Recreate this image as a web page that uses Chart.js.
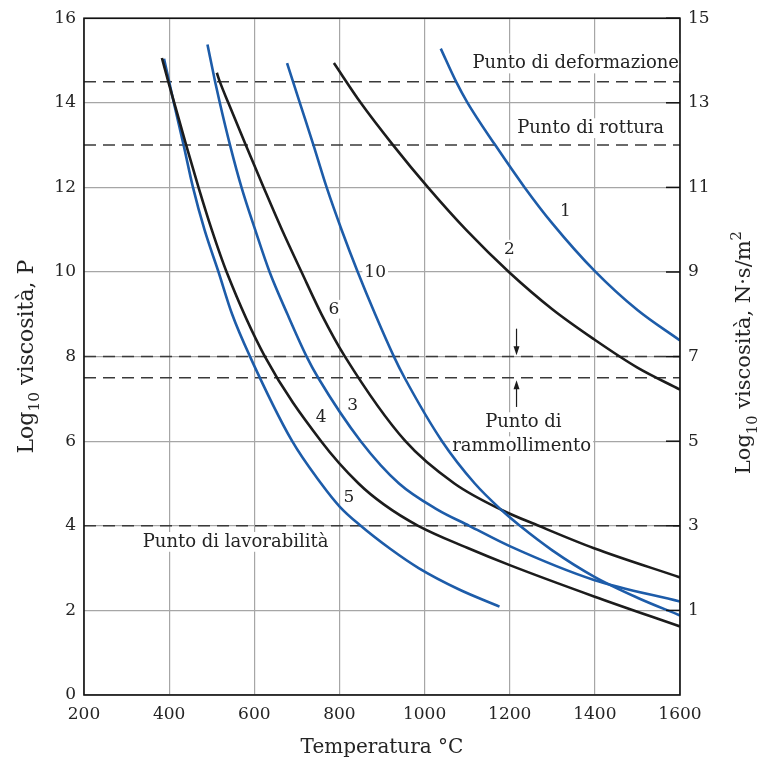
<!DOCTYPE html>
<html>
<head>
<meta charset="utf-8">
<script src="https://cdn.jsdelivr.net/npm/chart.js@4.4.1/dist/chart.umd.min.js"></script>
<style>
  html, body { margin: 0; padding: 0; background: #fff; }
  #wrap { width: 757px; height: 761px; }
</style>
</head>
<body>
<div id="wrap"><canvas id="viscChart" width="757" height="761"></canvas></div>
<script>
// [temperatura °C, log10 viscosità (P)]
const curve1 = [[1038,15.28],[1074,14.5],[1101,14],[1166,13],[1235,12],[1300,11.15],[1400,10.02],[1500,9.1],[1600,8.38]];
const curve2 = [[787,14.94],[850,14],[926,13],[1008,12],[1100,10.97],[1198,10],[1300,9.12],[1398,8.41],[1500,7.74],[1600,7.22]];
const curve3 = [[490,15.38],[508,14.5],[519,14],[543,13],[570,12],[602,11],[636,10],[678,9],[723,8],[750,7.5],[850,6],[940,5],[1029,4.39],[1105,4],[1200,3.52],[1398,2.72],[1600,2.21]];
const curve4 = [[383,15.06],[398,14.5],[412,14],[440,13],[469,12],[500,11],[535,10],[625,8],[757,6],[845,5],[905,4.5],[985,4],[1100,3.48],[1200,3.07],[1398,2.33],[1600,1.62]];
const curve5 = [[388,15.04],[400,14.5],[411,14],[434,13],[456,12],[483,11],[516,10],[548,9],[590,8],[689,6],[757,5],[801,4.45],[850,4],[920,3.45],[986,3.0],[1080,2.5],[1176,2.09]];
const curve6 = [[512,14.71],[519,14.5],[539,14],[580,13],[622,12],[665,11],[711,10],[758,9],[813,8],[955,6],[1070,5],[1180,4.38],[1268,4],[1398,3.47],[1600,2.78]];
const curve10 = [[677,14.94],[707,14],[739,13],[770,12],[805,11],[843,10],[884,9],[928,8],[953,7.5],[1041,6],[1118,5],[1182,4.36],[1224,4],[1300,3.42],[1398,2.8],[1500,2.3],[1600,1.88]];

const refLevels = [14.5, 13, 8, 7.5, 4];
const xRange = [200, 1600];
const yRange = [0, 16];
const y2Range = [-1, 15];

const curveLabels = [
  { text: '1', x: 1331, y: 11.43 },
  { text: '2', x: 1199, y: 10.54 },
  { text: '10', x: 884, y: 9.98 },
  { text: '6', x: 787, y: 9.12 },
  { text: '3', x: 831, y: 6.85 },
  { text: '4', x: 757, y: 6.56 },
  { text: '5', x: 822, y: 4.66 }
];
const notes = [
  { text: 'Punto di deformazione', x: 1600, y: 14.93, align: 'right' },
  { text: 'Punto di rottura', x: 1390, y: 13.4 },
  { text: 'Punto di', x: 1232, y: 6.45 },
  { text: 'rammollimento', x: 1228, y: 5.88 },
  { text: 'Punto di lavorabilità', x: 556, y: 3.62 }
];
const arrowX = 1216;
const arrowDown = [8.66, 8.03];
const arrowUp = [6.81, 7.44];

const FONT = '"DejaVu Serif", serif';
const TEXT = '#242424';
const BLUE = '#1d5ca9';
const BLACK = '#1c1c1c';
const GRID = '#a6a6a6';

const toXY = arr => arr.map(p => ({ x: p[0], y: p[1] }));

const curveSets = [
  [curve1, BLUE], [curve2, BLACK], [curve10, BLUE], [curve6, BLACK],
  [curve3, BLUE], [curve4, BLACK], [curve5, BLUE]
].map(([c, col]) => ({
  data: toXY(c),
  borderColor: col,
  borderWidth: 2.6,
  pointRadius: 0,
  cubicInterpolationMode: 'monotone',
  fill: false
}));

const refSets = refLevels.map(v => ({
  data: [{ x: xRange[0], y: v }, { x: xRange[1], y: v }],
  borderColor: '#3a3a3a',
  borderWidth: 1.5,
  borderDash: [12, 7],
  pointRadius: 0,
  fill: false
}));

function textItems(chart) {
  const xs = chart.scales.x, ys = chart.scales.y;
  const items = [];
  notes.forEach(n => items.push({ text: n.text, px: xs.getPixelForValue(n.x) - (n.align === 'right' ? 1 : 0),
    py: ys.getPixelForValue(n.y), align: n.align || 'center', size: 18 }));
  curveLabels.forEach(l => items.push({ text: l.text, px: xs.getPixelForValue(l.x),
    py: ys.getPixelForValue(l.y), align: 'center', size: 17 }));
  return items;
}

function drawRich(ctx, parts, cx, cy, rot, size) {
  ctx.save();
  ctx.translate(cx, cy);
  ctx.rotate(rot);
  let total = 0;
  parts.forEach(p => {
    ctx.font = (p.scale ? size * p.scale : size) + 'px ' + FONT;
    p.w = ctx.measureText(p.t).width;
    total += p.w;
  });
  let x = -total / 2;
  ctx.textBaseline = 'alphabetic';
  ctx.textAlign = 'left';
  parts.forEach(p => {
    ctx.font = (p.scale ? size * p.scale : size) + 'px ' + FONT;
    ctx.fillText(p.t, x, size * 0.35 + (p.dy || 0) * size);
    x += p.w;
  });
  ctx.restore();
}

const decorations = {
  id: 'decorations',
  beforeDatasetsDraw(chart) {
    const ctx = chart.ctx;
    ctx.save();
    ctx.fillStyle = '#fff';
    textItems(chart).forEach(it => {
      ctx.font = it.size + 'px ' + FONT;
      const w = ctx.measureText(it.text).width;
      const left = it.align === 'right' ? it.px - w : it.px - w / 2;
      ctx.fillRect(left - 2, it.py - it.size * 0.55, w + 4, it.size * 1.1);
    });
    ctx.restore();
  },
  afterDatasetsDraw(chart) {
    const ctx = chart.ctx;
    const { left, right, top, bottom } = chart.chartArea;
    const xs = chart.scales.x, ys = chart.scales.y, y2 = chart.scales.y2;
    ctx.save();
    // testi
    ctx.fillStyle = TEXT;
    ctx.textBaseline = 'middle';
    textItems(chart).forEach(it => {
      ctx.font = it.size + 'px ' + FONT;
      ctx.textAlign = it.align;
      ctx.fillText(it.text, it.px, it.py);
    });
    // frecce del punto di rammollimento
    const ax = xs.getPixelForValue(arrowX);
    ctx.strokeStyle = BLACK;
    ctx.fillStyle = BLACK;
    ctx.lineWidth = 1.2;
    [arrowDown, arrowUp].forEach(([from, to]) => {
      const p0 = ys.getPixelForValue(from), p1 = ys.getPixelForValue(to);
      const dir = Math.sign(p1 - p0);
      ctx.beginPath();
      ctx.moveTo(ax, p0);
      ctx.lineTo(ax, p1 - dir * 6);
      ctx.stroke();
      ctx.beginPath();
      ctx.moveTo(ax, p1);
      ctx.lineTo(ax - 3, p1 - dir * 9);
      ctx.lineTo(ax + 3, p1 - dir * 9);
      ctx.closePath();
      ctx.fill();
    });
    // tacche interne dell'asse destro
    ctx.strokeStyle = '#111';
    ctx.lineWidth = 1.5;
    y2.ticks.forEach(t => {
      if (t.value < 0) return;
      const py = y2.getPixelForValue(t.value);
      ctx.beginPath();
      ctx.moveTo(right - 14, py);
      ctx.lineTo(right, py);
      ctx.stroke();
    });
    // cornice
    ctx.lineWidth = 1.6;
    ctx.strokeRect(left, top, right - left, bottom - top);
    ctx.restore();
  },
  afterDraw(chart) {
    const ctx = chart.ctx;
    const { left, right, top, bottom } = chart.chartArea;
    ctx.save();
    ctx.fillStyle = TEXT;
    const midY = (top + bottom) / 2;
    drawRich(ctx, [{ t: 'Temperatura °C' }], (left + right) / 2, 746, 0, 20);
    drawRich(ctx, [{ t: 'Log' }, { t: '10', scale: 0.7, dy: 0.3 }, { t: ' viscosità, P' }], 25, midY, -Math.PI / 2, 22);
    drawRich(ctx, [{ t: 'Log' }, { t: '10', scale: 0.7, dy: 0.3 }, { t: ' viscosità, N·s/m' }, { t: '2', scale: 0.7, dy: -0.45 }],
      743, midY - 4, -Math.PI / 2, 21);
    ctx.restore();
  }
};

const tickFont = { family: FONT, size: 17 };

new Chart(document.getElementById('viscChart'), {
  type: 'line',
  data: { datasets: [...curveSets, ...refSets] },
  options: {
    responsive: false,
    animation: false,
    events: [],
    layout: { padding: { top: 17, left: 0, right: 0, bottom: 0 } },
    plugins: { legend: { display: false }, tooltip: { enabled: false } },
    scales: {
      x: {
        type: 'linear', min: xRange[0], max: xRange[1],
        border: { display: false },
        grid: { color: GRID, lineWidth: 1.2, drawTicks: false },
        ticks: { stepSize: 200, padding: 9, color: TEXT, font: tickFont, callback: v => String(v) },
        afterFit(s) { s.height = 66; }
      },
      y: {
        min: yRange[0], max: yRange[1],
        border: { display: false },
        grid: { color: GRID, lineWidth: 1.2, drawTicks: false },
        ticks: { stepSize: 2, padding: 8, color: TEXT, font: tickFont },
        afterFit(s) { s.width = 84; }
      },
      y2: {
        position: 'right',
        min: y2Range[0], max: y2Range[1],
        border: { display: false },
        grid: { drawOnChartArea: false, drawTicks: false },
        ticks: { stepSize: 2, padding: 8, color: TEXT, font: tickFont,
          callback: v => (v < 0 ? '' : String(v)) },
        afterFit(s) { s.width = 77; }
      }
    }
  },
  plugins: [decorations]
});
</script>
</body>
</html>
